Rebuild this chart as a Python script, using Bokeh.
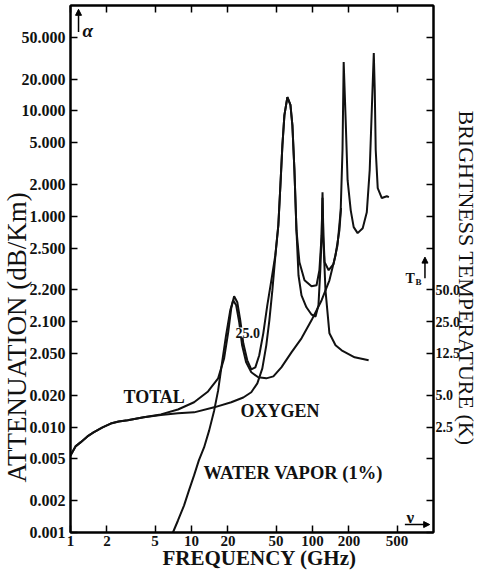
from bokeh.plotting import figure
from bokeh.models import Label, Arrow, NormalHead, LogAxis, FixedTicker, Title
from bokeh.embed import file_html
from bokeh.resources import INLINE

# ---------------- data ----------------
total_f = [1.00, 1.10, 1.21, 1.38, 1.55, 1.84, 2.15, 2.50, 2.97, 4.03, 5.58, 7.73, 10.5, 13.7, 16.6,
           18.6, 20.1, 21.3, 22.5, 23.9, 25.3, 26.8, 28.9, 31.2, 33.7, 36.3, 39.2, 42.3, 45.7,
           49.3, 52.2, 54.3, 56.4, 58.6, 62.0, 65.7, 68.2, 70.9, 73.7, 78.0, 85.9, 98.1, 108,
           114, 119, 121, 123, 126, 136, 149, 161, 171, 177, 181, 188, 195, 207, 219, 236, 260,
           281, 297, 309, 321, 327, 333, 346, 374, 411, 428]
total_a = [0.00538, 0.00656, 0.00716, 0.00816, 0.00891, 0.00994, 0.0108, 0.01128, 0.0116, 0.0124,
           0.0132, 0.0147, 0.0172, 0.0218, 0.0290, 0.0449, 0.0792, 0.134, 0.174, 0.153, 0.103,
           0.0624, 0.0430, 0.0353, 0.0369, 0.0480, 0.0776, 0.143, 0.247, 0.428, 0.822, 1.97,
           4.73, 9.12, 13.5, 11.4, 7.33, 2.74, 0.738, 0.366, 0.247, 0.217, 0.222, 0.308, 0.662,
           1.69, 0.662, 0.366, 0.308, 0.351, 0.532, 1.14, 4.25, 29.1, 8.18, 2.20, 1.14, 0.789,
           0.692, 0.771, 1.09, 2.74, 10.2, 35.4, 15.8, 4.25, 1.85, 1.49, 1.55, 1.52]

oxygen_f = [1.00, 1.10, 1.21, 1.38, 1.55, 1.84, 2.15, 2.50, 2.97, 4.03, 5.58, 7.73, 10.5, 15.4,
            21.3, 26.8, 31.2, 35.0, 38.5, 41.5, 44.0, 46.6, 49.3, 52.2, 54.3, 56.4, 58.6, 62.0,
            65.7, 68.2, 70.9, 73.7, 76.6, 81.1, 89.1, 98.1, 106, 112, 116, 119, 121, 123, 128,
            138, 155, 174, 223, 291]
oxygen_a = [0.00538, 0.00656, 0.00716, 0.00816, 0.00891, 0.00994, 0.0108, 0.01128, 0.0116,
            0.0124, 0.0130, 0.0135, 0.0138, 0.0154, 0.0172, 0.0191, 0.0214, 0.0260, 0.0361,
            0.0597, 0.103, 0.199, 0.418, 0.822, 1.97, 4.73, 9.12, 13.5, 11.4, 7.33, 2.74, 0.738,
            0.276, 0.178, 0.137, 0.117, 0.112, 0.143, 0.308, 0.662, 1.50, 0.593, 0.199, 0.0776,
            0.0597, 0.0535, 0.0459, 0.0430]

water_f = [7.02, 7.73, 8.67, 9.53, 10.5, 11.5, 12.7, 14.0, 15.4, 16.6, 17.9, 19.3, 20.9, 22.1,
           23.4, 24.8, 26.2, 28.3, 31.2, 35.6, 41.5, 47.5, 55.3, 67.0, 81.1, 98.1, 119, 138, 155,
           167, 172]
water_a = [0.00100, 0.00130, 0.00180, 0.00251, 0.00348, 0.00483, 0.00641, 0.00931, 0.0144,
           0.0223, 0.0411, 0.0743, 0.128, 0.160, 0.143, 0.0987, 0.0597, 0.0411, 0.0331, 0.0297,
           0.0290, 0.0303, 0.0369, 0.0512, 0.0695, 0.103, 0.160, 0.247, 0.428, 0.738, 1.20]

y_ticks = [0.001, 0.002, 0.005, 0.01, 0.02, 0.05, 0.1, 0.2, 0.5, 1, 2, 5, 10, 20, 50]
y_tick_labels = ["0.001", "0.002", "0.005", "0.010", "0.020", "2.050", "2.100", "2.200",
                 "2.500", "1.000", "2.000", "5.000", "10.000", "20.000", "50.000"]
x_ticks = [1, 2, 5, 10, 20, 50, 100, 200, 500]
x_tick_labels = ["1", "2", "5", "10", "20", "50", "100", "200", "500"]
tb_ticks = [0.2, 0.1, 0.05, 0.02, 0.01]
tb_labels = ["50.0", "25.0", "12.5", "5.0", "2.5"]

SERIF = "Liberation Serif"
INK = "#111111"

p = figure(width=479, height=577, x_axis_type="log", y_axis_type="log",
           x_range=(1, 1000), y_range=(0.001, 100),
           output_backend="svg", toolbar_location=None,
           min_border_left=70, min_border_right=46, min_border_top=5, min_border_bottom=45)
p.xgrid.visible = False
p.ygrid.visible = False
p.outline_line_color = "black"
p.outline_line_width = 2
p.background_fill_color = "white"
p.border_fill_color = "white"


def style_axis(ax, size="15px"):
    ax.axis_line_width = 2
    ax.axis_line_color = "black"
    ax.major_tick_in = 7
    ax.major_tick_out = 0
    ax.major_tick_line_width = 1.5
    ax.minor_tick_line_color = None
    ax.major_label_text_font = SERIF
    ax.major_label_text_font_style = "bold"
    ax.major_label_text_font_size = size
    ax.major_label_text_color = INK


# left axis
ya = p.yaxis[0]
ya.ticker = FixedTicker(ticks=y_ticks)
ya.major_label_overrides = {t: l for t, l in zip(y_ticks, y_tick_labels)}
style_axis(ya, "16px")
ya.major_label_standoff = 5

# bottom axis
xa = p.xaxis[0]
xa.ticker = FixedTicker(ticks=x_ticks)
xa.major_label_overrides = {t: l for t, l in zip(x_ticks, x_tick_labels)}
style_axis(xa)
xa.major_label_standoff = 3

# right axis (brightness temperature)
ra = LogAxis(ticker=FixedTicker(ticks=y_ticks))
ra.major_label_overrides = {t: "" for t in y_ticks}
ra.major_label_overrides.update({t: l for t, l in zip(tb_ticks, tb_labels)})
style_axis(ra, "14px")
ra.major_label_standoff = 2
p.add_layout(ra, "right")

# top axis (ticks only)
ta = LogAxis(ticker=FixedTicker(ticks=x_ticks))
ta.major_label_overrides = {t: "" for t in x_ticks}
style_axis(ta, "0px")
ta.major_label_standoff = 0
p.add_layout(ta, "above")

# axis titles as side-panel titles
p.add_layout(Title(text="ATTENUATION (dB/Km)", align="left", offset=50, vertical_align="middle",
                   standoff=-29, text_font=SERIF, text_font_style="normal",
                   text_font_size="27px", text_color=INK), "left")
p.add_layout(Title(text="BRIGHTNESS TEMPERATURE (K)", align="left", offset=105,
                   vertical_align="middle", standoff=-21, text_font=SERIF,
                   text_font_style="normal", text_font_size="22px", text_color=INK), "right")
p.add_layout(Title(text="FREQUENCY (GHz)", align="left", offset=92, vertical_align="middle",
                   standoff=-8, text_font=SERIF, text_font_style="bold",
                   text_font_size="21px", text_color=INK), "below")

# curves
for fx, ay in [(total_f, total_a), (oxygen_f, oxygen_a), (water_f, water_a)]:
    p.line(fx, ay, line_color=INK, line_width=2)


def lab(text, x, y, size, style="bold", angle=0, align="left", baseline="alphabetic", **kw):
    p.add_layout(Label(text=text, x=x, y=y, x_units="screen", y_units="screen",
                       text_font=SERIF, text_font_style=style, text_font_size=size,
                       text_color=INK, angle=angle, text_align=align,
                       text_baseline=baseline, **kw))


# curve names (positions relative to the frame's bottom-left corner)
lab("TOTAL", 53, 136, "18px")
lab("OXYGEN", 170, 122, "18px")
lab("WATER VAPOR (1%)", 133, 60, "18.5px")
lab("25.0", 165, 200, "14px", background_fill_color="white", background_fill_alpha=1.0)

# axis symbols
lab("α", 12, 502, "19px", style="bold italic")
lab("T", 335, 254, "14px")
lab("B", 345, 251, "9px")
lab("ν", 336, 15, "17px")

head = dict(size=6, fill_color="black", line_color="black")
p.add_layout(Arrow(end=NormalHead(**head), x_start=1.165, y_start=56.0, x_end=1.165, y_end=92.0,
                   line_width=1.5, line_color="black"))
p.add_layout(Arrow(end=NormalHead(**head), x_start=850, y_start=0.258, x_end=850, y_end=0.41,
                   line_width=1.5, line_color="black"))
p.add_layout(Arrow(end=NormalHead(**head), x_start=580, y_start=0.00119, x_end=930, y_end=0.00119,
                   line_width=1.5, line_color="black"))

open("out.html", "w").write(file_html(p, INLINE))
